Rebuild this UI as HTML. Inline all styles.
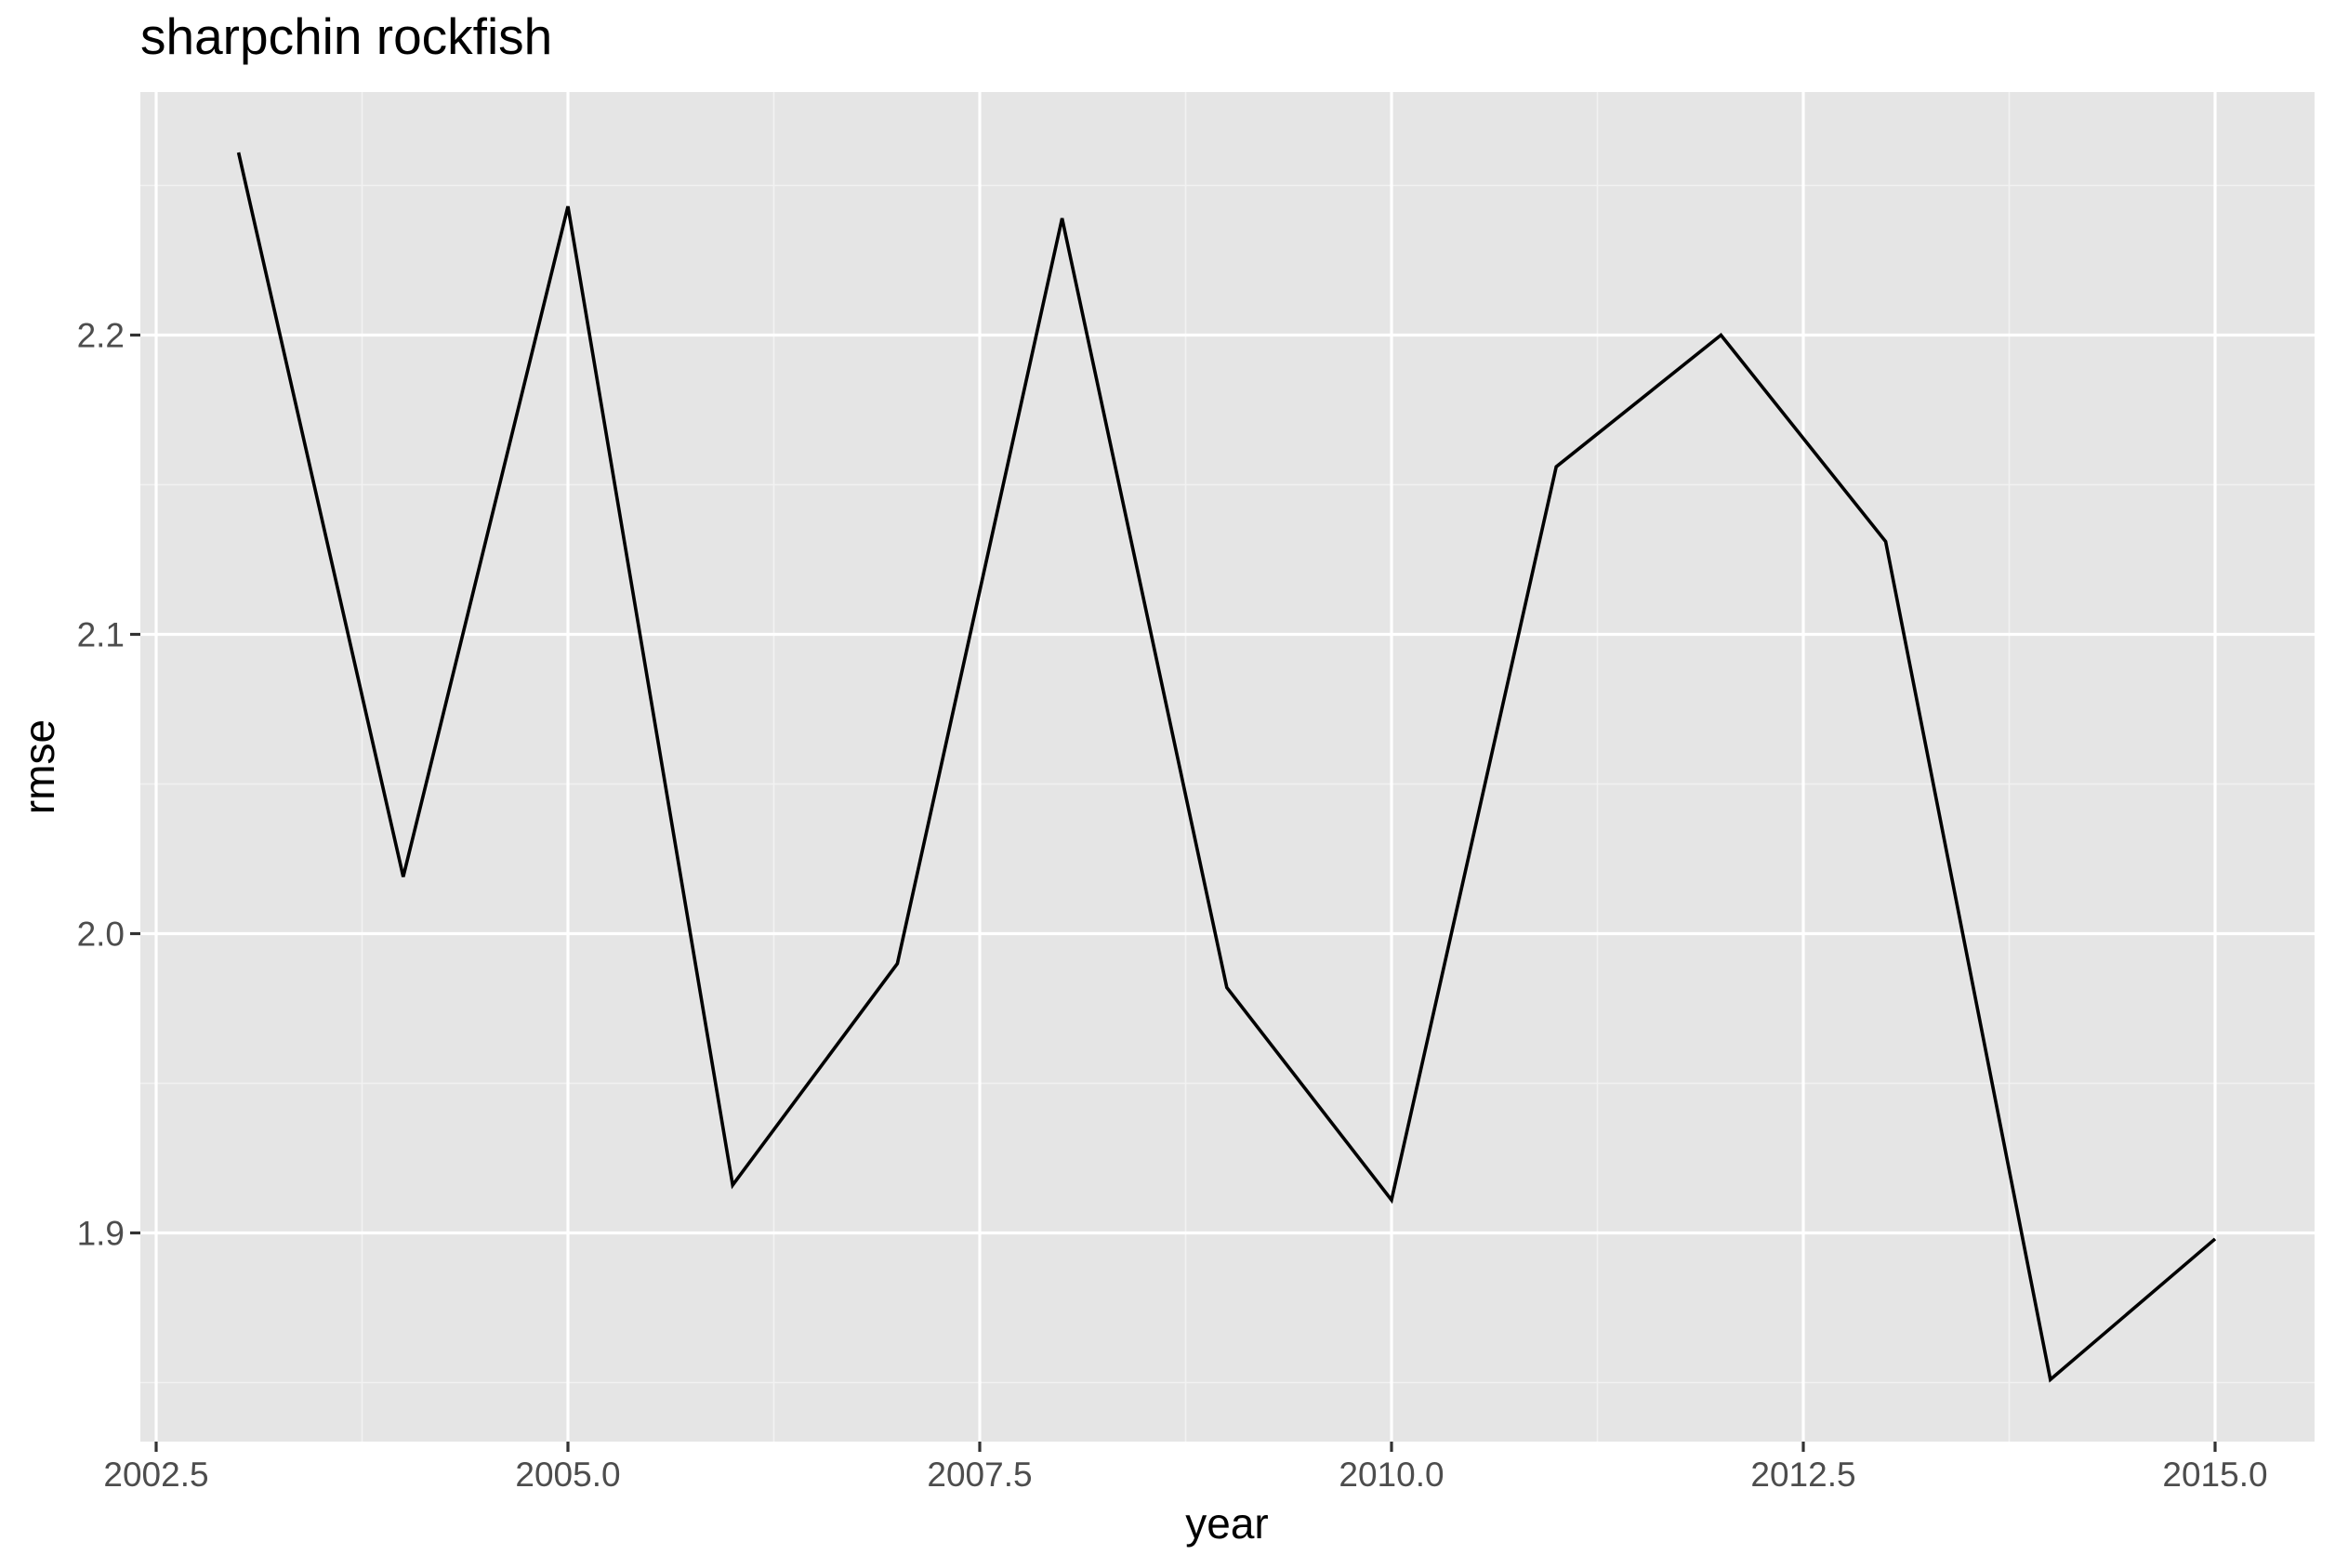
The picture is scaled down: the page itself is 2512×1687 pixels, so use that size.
<!DOCTYPE html>
<html><head><meta charset="utf-8"><style>
body{margin:0;background:#fff}
svg{display:block;font-family:"Liberation Sans",Arial,sans-serif}
</style></head><body>
<svg id="chart" width="2512" height="1687">
<text x="151" y="58" font-size="55" fill="#000">sharpchin rockfish</text>
<rect x="151" y="99" width="2339" height="1452" fill="#e5e5e5"/>
<g id="grid"></g>
<g id="axes"></g>
<path id="line" fill="none" stroke="#000" stroke-width="3.6"/>
<text x="1320" y="1655" font-size="46" text-anchor="middle" fill="#000">year</text>
<text transform="translate(58,825) rotate(-90)" font-size="46" text-anchor="middle" fill="#000">rmse</text>
</svg>
<script>
const years=[2003,2004,2005,2006,2007,2008,2009,2010,2011,2012,2013,2014,2015];
const rmse=[2.261,2.019,2.243,1.916,1.990,2.239,1.982,1.911,2.156,2.200,2.131,1.851,1.898];
const xTicks=[2002.5,2005.0,2007.5,2010.0,2012.5,2015.0];
const xTickLabels=["2002.5","2005.0","2007.5","2010.0","2012.5","2015.0"];
const yTicks=[1.9,2.0,2.1,2.2];
const yTickLabels=["1.9","2.0","2.1","2.2"];
const NS="http://www.w3.org/2000/svg";
const X=v=>168+(v-2002.5)*(2383-168)/12.5;
const Y=v=>1326.5-(v-1.9)*3220;
const grid=document.getElementById('grid'),axes=document.getElementById('axes');
function mk(tag,attrs,parent){const e=document.createElementNS(NS,tag);for(const k in attrs)e.setAttribute(k,attrs[k]);parent.appendChild(e);return e;}
for(let i=0;i<xTicks.length-1;i++){const m=(xTicks[i]+xTicks[i+1])/2;
 const l=mk('line',{x1:X(m),x2:X(m),y1:99,y2:1551,stroke:'#f2f2f2','stroke-width':1.6},grid);
 
 }
const yMinor=[1.85,1.95,2.05,2.15,2.25];
yMinor.forEach(m=>{const l=mk('line',{x1:151,x2:2490,y1:Y(m),y2:Y(m),stroke:'#f2f2f2','stroke-width':1.6},grid);
 
 });
xTicks.forEach((t,i)=>{const l=mk('line',{x1:X(t),x2:X(t),y1:99,y2:1551,stroke:'#fff','stroke-width':3.2},grid);
 
 
 const tk=mk('line',{x1:X(t),x2:X(t),y1:1551,y2:1562,stroke:'#333','stroke-width':3.2},axes);
 
 
 const tx=mk('text',{x:X(t),y:1599,'font-size':37,'text-anchor':'middle',fill:'#4d4d4d'},axes);
 tx.textContent=xTickLabels[i];
 
 });
yTicks.forEach((t,i)=>{const l=mk('line',{x1:151,x2:2490,y1:Y(t),y2:Y(t),stroke:'#fff','stroke-width':3.2},grid);
 
 
 const tk=mk('line',{x1:140,x2:151,y1:Y(t),y2:Y(t),stroke:'#333','stroke-width':3.2},axes);
 
 
 const tx=mk('text',{x:134,y:Y(t)+13,'font-size':37,'text-anchor':'end',fill:'#4d4d4d'},axes);
 tx.textContent=yTickLabels[i];
 
 });
document.getElementById('line').setAttribute('d',years.map((y,i)=>(i?'L':'M')+X(y)+','+Y(rmse[i])).join(' '));
</script>
</body></html>
